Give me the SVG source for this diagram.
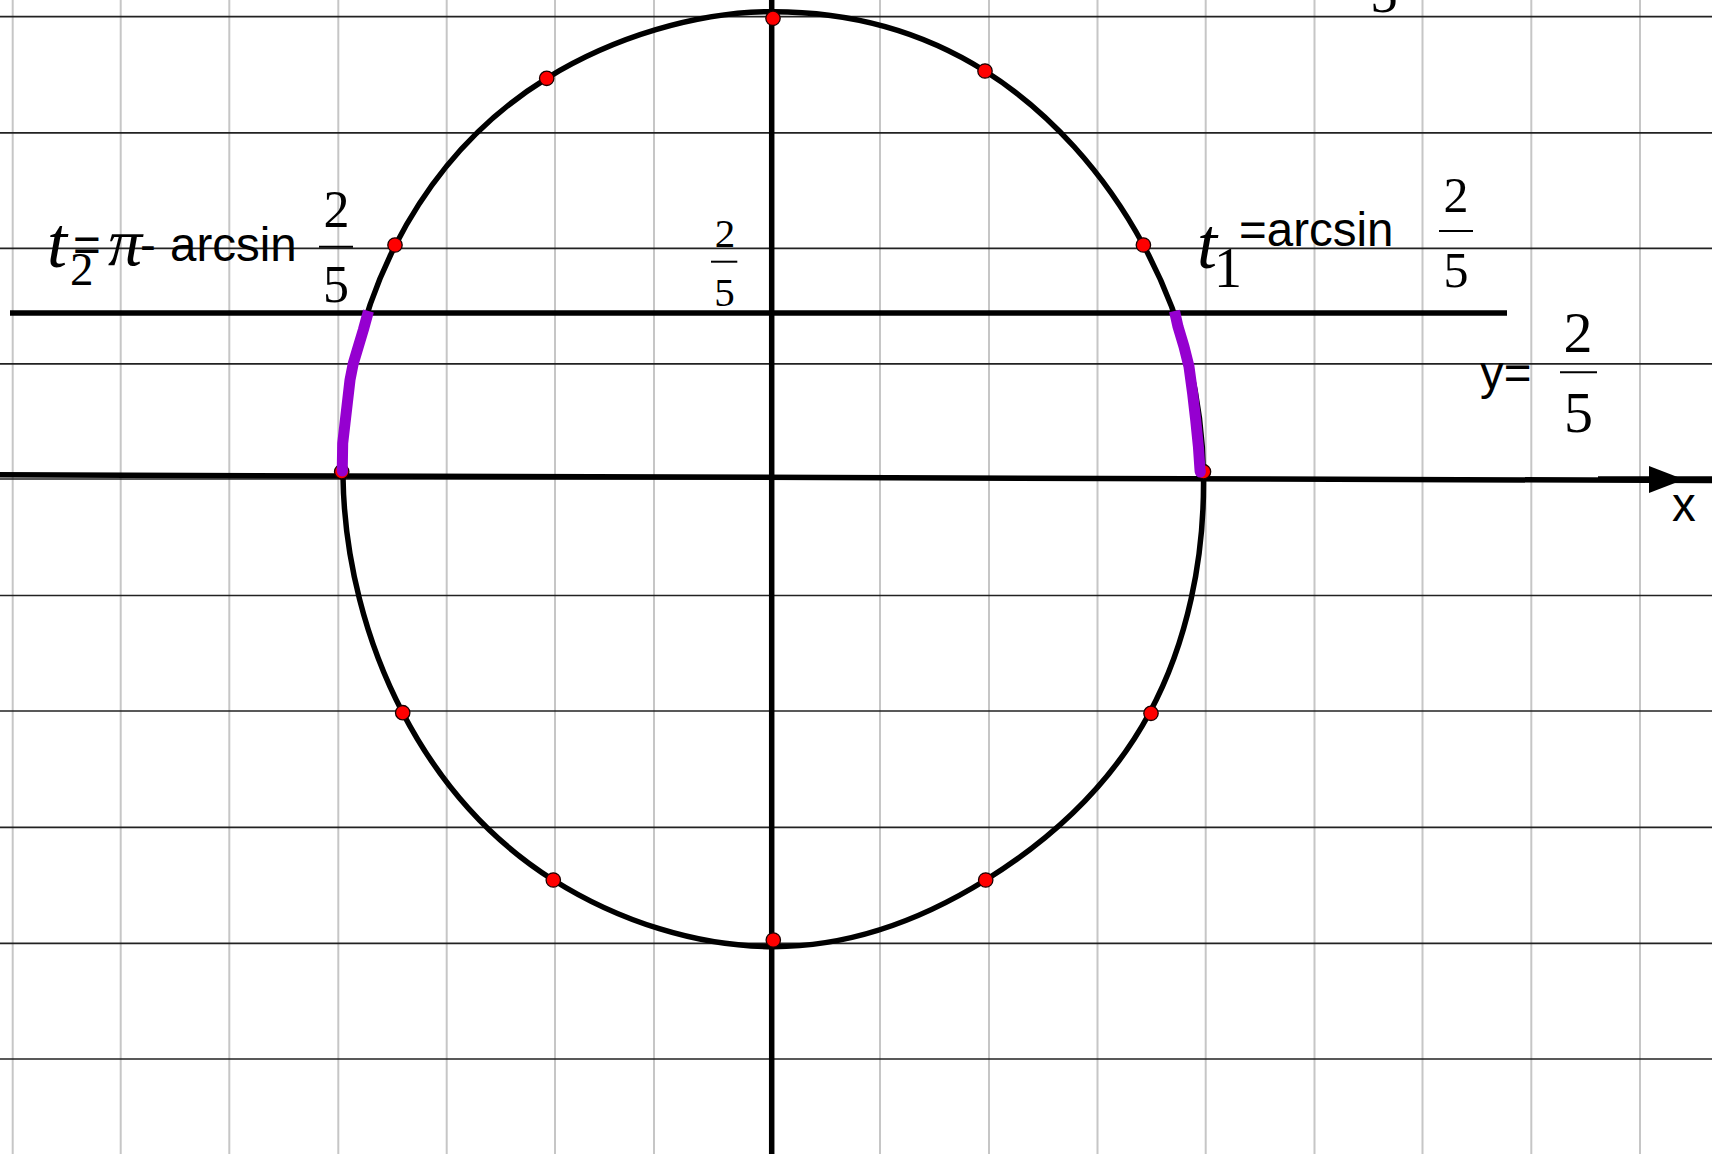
<svg xmlns="http://www.w3.org/2000/svg" width="1712" height="1154" viewBox="0 0 1712 1154">
<style>
.vg{stroke:#c6c6c6;stroke-width:2;fill:none}
.hg{stroke:#222;stroke-width:1.7;fill:none}
.ax{stroke:#000;stroke-width:5.5;fill:none}
.curve{stroke:#000;stroke-width:5.5;fill:none}
.arc{stroke:#9500d0;stroke-width:11;fill:none;stroke-linejoin:round;stroke-linecap:butt}
.pt{fill:#ff0000;stroke:#1a0000;stroke-width:1.3}
.sans{font-family:"Liberation Sans",Arial,sans-serif;font-size:47.5px;fill:#000}
.ser{font-family:"Liberation Serif","Times New Roman",serif;fill:#000}
.it{font-style:italic}
.bar{stroke:#000;stroke-width:2}
</style>
<rect width="1712" height="1154" fill="#fff"/>
<g id="grid">
<g class="vg">
<line x1="12.7" y1="0" x2="12.7" y2="1154"/>
<line x1="120.7" y1="0" x2="120.7" y2="1154"/>
<line x1="229.3" y1="0" x2="229.3" y2="1154"/>
<line x1="338.3" y1="0" x2="338.3" y2="1154"/>
<line x1="446.7" y1="0" x2="446.7" y2="1154"/>
<line x1="555" y1="0" x2="555" y2="1154"/>
<line x1="654" y1="0" x2="654" y2="1154"/>
<line x1="880" y1="0" x2="880" y2="1154"/>
<line x1="989" y1="0" x2="989" y2="1154"/>
<line x1="1097.5" y1="0" x2="1097.5" y2="1154"/>
<line x1="1205.7" y1="0" x2="1205.7" y2="1154"/>
<line x1="1314.5" y1="0" x2="1314.5" y2="1154"/>
<line x1="1422.5" y1="0" x2="1422.5" y2="1154"/>
<line x1="1531.3" y1="0" x2="1531.3" y2="1154"/>
<line x1="1640" y1="0" x2="1640" y2="1154"/>
</g>
<g class="hg">
<line x1="0" y1="16.7" x2="1712" y2="16.7"/>
<line x1="0" y1="132.8" x2="1712" y2="132.8"/>
<line x1="0" y1="248.3" x2="1712" y2="248.3"/>
<line x1="0" y1="363.8" x2="1712" y2="363.8"/>
<line x1="0" y1="479" x2="1712" y2="479"/>
<line x1="0" y1="595.5" x2="1712" y2="595.5"/>
<line x1="0" y1="711" x2="1712" y2="711"/>
<line x1="0" y1="827.3" x2="1712" y2="827.3"/>
<line x1="0" y1="943.3" x2="1712" y2="943.3"/>
<line x1="0" y1="1059" x2="1712" y2="1059"/>
</g>
</g>
<g id="connectors">
<line class="ax" x1="771.7" y1="0" x2="771.7" y2="1154"/>
<line class="ax" x1="0" y1="474.8" x2="1712" y2="480.5"/>
<line class="ax" x1="1598" y1="479" x2="1712" y2="479"/>
<polygon points="1649,466 1684,479.6 1649,493" fill="#000"/>
<line class="ax" x1="10" y1="313" x2="1507" y2="313"/>
</g>
<g id="circle">
<path class="curve" d="M773 11.7 C849.7 11.7 920.18 30.18 985 71 C1049.82 111.82 1105.16 174.12 1143.4 245 C1181.64 315.88 1202.43 394.1 1203.5 476 C1204.57 557.9 1187.62 642.3 1149.5 713 C1111.38 783.7 1051.54 839.1 985.7 880 C919.86 920.9 848.97 946.7 773.3 946.7 C697.63 946.7 618.16 920.95 553.3 880 C488.44 839.05 439.5 783.23 402.7 712.7 C365.9 642.17 344.26 558.85 343 477 C341.74 395.15 359.85 314.77 395.5 245 C431.15 175.23 480.63 119.12 546.7 78.3 C612.77 37.48 696.3 11.7 773 11.7 Z"/>
</g>
<g id="points">
<circle class="pt" cx="773" cy="18.3" r="7.2"/>
<circle class="pt" cx="985" cy="71" r="7.2"/>
<circle class="pt" cx="1143.4" cy="245" r="7.2"/>
<circle class="pt" cx="1203.5" cy="471.7" r="7.2"/>
<circle class="pt" cx="1151" cy="713.3" r="7.2"/>
<circle class="pt" cx="985.7" cy="880" r="7.2"/>
<circle class="pt" cx="773.3" cy="940" r="7.2"/>
<circle class="pt" cx="553.3" cy="880" r="7.2"/>
<circle class="pt" cx="402.7" cy="712.7" r="7.2"/>
<circle class="pt" cx="341.7" cy="471.7" r="7.2"/>
<circle class="pt" cx="395" cy="245" r="7.2"/>
<circle class="pt" cx="546.7" cy="78.3" r="7.2"/>
</g>
<g id="arcs">
<polyline class="arc" points="368.5,311 363.3,330 358.3,346.7 353.3,363.3 350,380 347.3,403.3 345,423.3 342.7,443.3 342.3,466.7 342.3,471"/>
<circle cx="342.3" cy="471" r="5.5" fill="#9500d0"/>
<polyline class="arc" points="1174.5,311 1178,326.7 1184,346.7 1189,366.7 1192.6,393.3 1195.7,420 1198.4,446.7 1200,470 1200.3,472"/>
<circle cx="1200.3" cy="472" r="5.5" fill="#9500d0"/>
</g>
<g id="label-t2">
<text class="ser it" x="47" y="267" font-size="72">t</text>
<text class="ser" x="70" y="285" font-size="47">2</text>
<text class="sans" x="73" y="261">=</text>
<text class="ser it" x="108" y="265" font-size="68">π</text>
<text class="sans" x="140" y="261">-</text>
<text class="sans" x="170" y="261">arcsin</text>
<text class="ser" x="336.5" y="227" font-size="52" text-anchor="middle">2</text>
<line class="bar" x1="319" y1="246.7" x2="353" y2="246.7"/>
<text class="ser" x="336" y="302" font-size="52" text-anchor="middle">5</text>
</g>
<g id="label-center">
<text class="ser" x="725" y="246.7" font-size="41" text-anchor="middle">2</text>
<line class="bar" x1="711" y1="261.7" x2="737.3" y2="261.7" stroke-width="1.6"/>
<text class="ser" x="724.5" y="305.7" font-size="41" text-anchor="middle">5</text>
</g>
<g id="label-t1">
<text class="ser it" x="1197" y="268" font-size="72">t</text>
<text class="ser" x="1228" y="286.7" font-size="56" text-anchor="middle">1</text>
<text class="sans" x="1239" y="246">=arcsin</text>
<text class="ser" x="1456" y="211.7" font-size="50" text-anchor="middle">2</text>
<line class="bar" x1="1439" y1="231" x2="1473" y2="231"/>
<text class="ser" x="1456" y="286.7" font-size="50" text-anchor="middle">5</text>
</g>
<g id="label-y">
<text class="sans" x="1480" y="389">y=</text>
<text class="ser" x="1578" y="351.7" font-size="58" text-anchor="middle">2</text>
<line class="bar" x1="1560" y1="372.3" x2="1597" y2="372.3"/>
<text class="ser" x="1578.5" y="431.7" font-size="58" text-anchor="middle">5</text>
</g>
<g id="label-x">
<text class="sans" x="1672" y="520.7">x</text>
</g>
<g id="label-top">
<text class="ser" x="1384" y="12" font-size="55" text-anchor="middle">5</text>
</g>
</svg>
